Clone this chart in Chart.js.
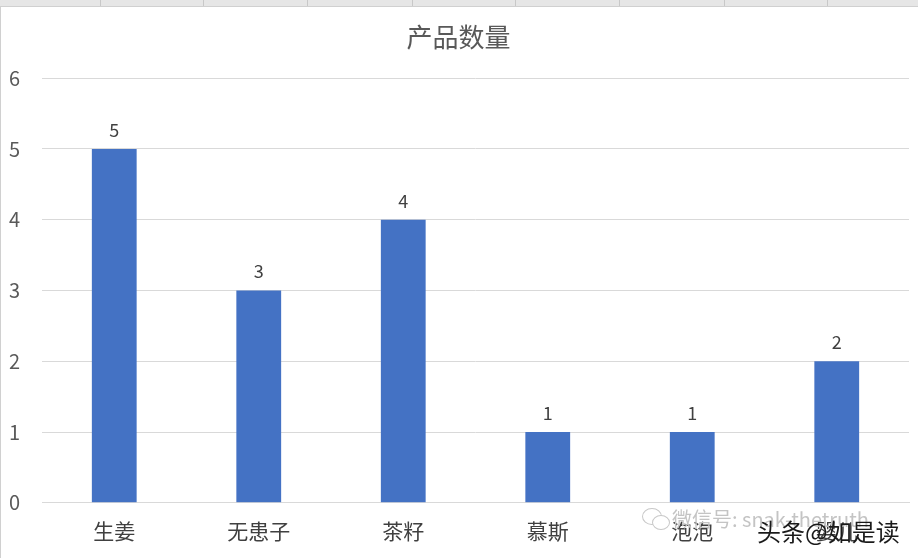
<!DOCTYPE html>
<html>
<head>
    <meta charset="utf-8">
    <title>产品数量</title>
    <style>
        body {
            margin: 0;
            background-color: #ffffff;
            font-family: "Noto Sans CJK SC", sans-serif;
        }
        #wrap {
            position: relative;
            width: 918px;
            height: 558px;
            overflow: hidden;
        }
        #topbar {
            position: absolute;
            left: 0; top: 0;
            width: 918px; height: 6px;
            background: #e6e6e6;
            border-bottom: 1px solid #d0d0d0;
        }
        .sep {
            position: absolute;
            top: 0; width: 1px; height: 6px;
            background: #c8c8c8;
        }
        #leftline {
            position: absolute;
            left: 0; top: 6px; width: 1px; height: 552px;
            background: #d0d0d0;
        }
        .wm {
            position: absolute;
            white-space: nowrap;
            font-family: "Noto Sans CJK SC", sans-serif;
        }
        .bubble {
            position: absolute;
            border: 1.5px solid #c8c8c8;
            border-radius: 50%;
        }
    </style>
</head>
<body>
    <div id="wrap">
        <canvas id="chart" width="918" height="558"></canvas>
        <div id="topbar"></div>
        <div id="leftline"></div>
        <div class="bubble" style="left:642px; top:508px; width:18px; height:15px;"></div>
        <div class="bubble" style="left:652px; top:515px; width:16px; height:13px; background:#fff;"></div>
        <div class="wm" style="left:672px; top:504px; font-size:20px; color:#c4c4c4;">微信号: snak-thetruth</div>
        <div class="wm" style="left:757px; top:513px; font-size:24px; color:#1a1a1a;">头条@如是读</div>
    </div>

    <script src="https://cdn.jsdelivr.net/npm/chart.js"></script>
    <script>
        // 数据
        var categories = ['生姜', '无患子', '茶籽', '慕斯', '泡泡', '婴儿'];
        var counts = [5, 3, 4, 1, 1, 2];
        var yTicks = [0, 1, 2, 3, 4, 5, 6];

        // 顶部表格列分隔线
        var bar = document.getElementById('topbar');
        [100, 203, 307, 412, 515, 619, 724, 827].forEach(function (x) {
            var d = document.createElement('div');
            d.className = 'sep';
            d.style.left = x + 'px';
            bar.appendChild(d);
        });

        // 柱顶数值标签
        var valueLabels = {
            id: 'valueLabels',
            afterDatasetsDraw: function (chart) {
                var ctx = chart.ctx;
                var meta = chart.getDatasetMeta(0);
                ctx.save();
                ctx.fillStyle = '#404040';
                ctx.font = '18px "Noto Sans CJK SC", sans-serif';
                ctx.textAlign = 'center';
                ctx.textBaseline = 'bottom';
                meta.data.forEach(function (el, i) {
                    ctx.fillText(String(counts[i]), el.x, el.y - 10);
                });
                ctx.restore();
            }
        };

        new Chart(document.getElementById('chart'), {
            type: 'bar',
            data: {
                labels: categories,
                datasets: [{
                    label: '产品数量',
                    data: counts,
                    backgroundColor: '#4472c4',
                    categoryPercentage: 1,
                    barPercentage: 0.31
                }]
            },
            options: {
                responsive: false,
                animation: false,
                layout: {
                    padding: { left: 8, right: 9, top: 22, bottom: 6 }
                },
                plugins: {
                    legend: { display: false },
                    tooltip: { enabled: false },
                    title: {
                        display: true,
                        text: '产品数量',
                        color: '#595959',
                        font: { size: 26, family: '"Noto Sans CJK SC", sans-serif', weight: 'normal' },
                        padding: { top: 0, bottom: 25 }
                    }
                },
                scales: {
                    x: {
                        grid: { display: false },
                        border: { color: '#d9d9d9' },
                        ticks: {
                            color: '#404040',
                            font: { size: 21, family: '"Noto Sans CJK SC", sans-serif' },
                            padding: 8
                        }
                    },
                    y: {
                        min: 0,
                        max: 6,
                        afterBuildTicks: function (axis) {
                            axis.ticks = yTicks.map(function (v) { return { value: v }; });
                        },
                        afterFit: function (axis) {
                            axis.width = 34;
                        },
                        grid: { color: '#d9d9d9', drawTicks: false },
                        border: { display: false },
                        ticks: {
                            color: '#595959',
                            font: { size: 20, family: '"Noto Sans CJK SC", sans-serif' },
                            padding: 22
                        }
                    }
                }
            },
            plugins: [valueLabels]
        });
    </script>
</body>
</html>
